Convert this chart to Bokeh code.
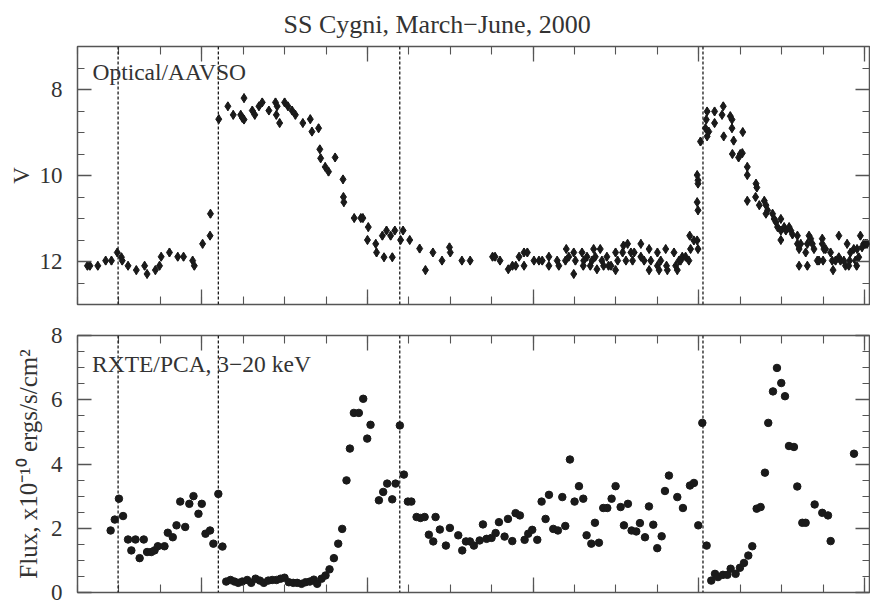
from bokeh.plotting import figure
from bokeh.models import (Range1d, LinearAxis, SingleIntervalTicker, Span, Label, Title,
                          CustomJSTickFormatter)
from bokeh.layouts import column
from bokeh.embed import file_html
from bokeh.resources import INLINE

# ---------------- data ----------------
# Optical (AAVSO) V magnitudes: day, V
opt_day = [6.2, 6.5, 7.45, 8.4, 9.1, 9.8, 10.3, 10.4, 11.1, 12.1, 13.1, 13.4, 14.4, 14.9, 15.1, 16.1,
           17.1, 17.8, 18.9, 19.1, 20.1, 21.0, 21.05, 22.05, 23.15, 23.8, 24.7, 24.9, 25.1, 25.1,
           26.1, 26.4, 26.9, 27.3, 28.1, 28.9, 29.0, 29.1, 29.4, 30.0, 30.4, 30.9, 31.3, 32.2, 33.1,
           33.3, 34.1, 34.25, 34.35, 34.9, 35.3, 36.1, 37.05, 37.1, 37.15, 38.4, 39.2, 39.45, 40.0,
           40.1, 41.0, 41.1, 41.8, 42.0, 42.3, 42.8, 43.0, 43.3, 44.0, 44.3, 45.1, 46.3, 47.0, 47.9,
           49.0, 49.9, 50.0, 51.4, 52.4, 55.1, 55.4, 56.0, 57.0, 57.5, 57.9, 58.3, 58.9, 58.9, 59.3,
           60.1, 60.7, 61.1, 61.9, 61.9, 62.9, 63.1, 63.9, 64.0, 64.3, 64.9, 64.9, 65.1, 65.9, 66.05,
           66.1, 66.5, 66.9, 67.1, 67.3, 67.5, 67.7, 68.1, 68.3, 68.5, 68.9, 69.1, 69.4, 69.95, 69.95,
           70.2, 70.8, 70.9, 71.2, 71.4, 71.8, 72.0, 72.2, 73.0, 73.0, 73.4, 74.0, 74.0, 74.2, 75.0,
           75.0, 75.2, 75.4, 76.0, 76.1, 76.2, 77.0, 77.2, 77.4, 77.6, 77.8, 78.0, 78.4, 78.8, 79.0,
           78.9, 79.4, 79.8, 79.9, 79.8, 79.9, 79.9, 79.8, 79.9, 80.2, 80.8, 81.0, 80.9, 81.0, 81.2,
           81.9, 81.9, 82.95, 82.8, 83.0, 83.8, 84.0, 84.0, 84.05, 84.2, 84.8, 85.0, 85.25, 85.3,
           85.85, 85.85, 85.85, 86.9, 87.0, 86.85, 87.3, 87.9, 88.1, 88.1, 88.3, 88.9, 89.1, 89.3,
           89.5, 89.9, 89.9, 89.9, 90.3, 90.5, 90.9, 91.1, 91.3, 91.9, 91.9, 92.1, 92.3, 92.1, 92.9,
           93.1, 93.1, 93.3, 93.5, 93.7, 93.9, 94.3, 94.5, 94.9, 94.9, 95.1, 95.3, 95.0, 95.9, 96.1,
           96.2, 96.5, 96.9, 96.9, 97.1, 97.5, 97.7, 97.9, 98.1, 98.2, 98.3, 98.7, 98.9, 99.05, 99.1,
           99.3, 99.5, 99.7, 99.9, 100.1, 100.3]
opt_mag = [12.10, 12.10, 12.10, 11.98, 11.98, 11.79, 11.90, 11.98, 12.10, 12.20, 12.10, 12.29, 12.20,
           12.10, 11.89, 11.79, 11.89, 11.89, 11.98, 12.10, 11.59, 11.40, 10.89, 8.69, 8.39, 8.59,
           8.59, 8.66, 8.70, 8.20, 8.49, 8.59, 8.39, 8.30, 8.49, 8.30, 8.59, 8.39, 8.78, 8.30, 8.39,
           8.49, 8.59, 8.78, 8.69, 8.98, 8.90, 9.39, 9.60, 9.80, 9.91, 9.58, 10.09, 10.50, 10.62,
           10.99, 10.99, 10.99, 11.50, 11.20, 11.59, 11.79, 11.40, 11.90, 11.28, 11.40, 11.90, 11.28,
           11.50, 11.28, 11.50, 11.70, 12.20, 11.79,
           11.98, 11.67, 11.79, 11.98, 11.98, 11.89, 11.89, 11.98, 12.18, 12.10, 12.10, 11.89, 11.79,
           12.10, 11.79, 11.98, 11.98, 11.98, 11.89, 12.10, 11.98, 12.10, 11.98, 11.71, 11.89, 11.79,
           12.29, 11.98, 11.79, 12.10, 11.98, 11.89, 12.10, 11.98, 11.71, 11.89, 12.18, 11.71, 11.98,
           12.10, 11.89, 12.10, 12.10, 11.79, 12.20, 11.98, 11.79, 11.63, 11.98, 11.59, 11.79, 11.98,
           11.79, 11.59, 11.89, 11.98, 11.71, 12.20, 11.98, 11.79, 12.10, 12.20, 11.98, 11.71, 12.10,
           12.20, 11.79, 12.10, 12.20, 11.98, 11.98, 11.89, 11.89, 11.98, 11.71, 11.40, 11.51, 11.51,
           11.71, 9.99, 10.11, 10.19, 10.62, 10.81, 9.21, 8.90, 9.09, 8.70, 8.51, 8.98, 8.51, 8.78,
           8.39, 8.59, 9.09, 8.62, 8.70, 8.90, 9.50, 9.19, 9.58, 9.50, 9.48, 8.99, 9.80, 9.99, 10.59,
           10.19, 10.28, 10.50, 10.69, 10.59, 10.69, 10.89, 10.81, 10.89, 11.01, 11.08, 11.20, 11.01,
           11.28, 11.50, 11.20, 11.28, 11.20, 11.28, 11.37, 11.40, 11.59, 11.71, 11.59, 12.10, 11.79,
           11.59, 12.10, 11.40, 11.47, 11.59, 11.71, 11.98, 11.98, 11.47, 11.59, 11.71, 11.71, 11.98,
           11.79, 11.98, 12.20, 11.98, 11.40, 11.90, 11.98, 11.98, 12.10, 11.59, 12.10, 11.98, 11.79,
           11.71, 11.98, 12.10, 11.71, 11.90, 11.40, 11.67, 11.59, 11.59, 11.59]
V_ERR = 0.1

# RXTE/PCA 3-20 keV flux (1e-10 erg/s/cm2): day, flux
xr_day = [9.0, 9.5, 10.0, 10.5, 11.1, 11.5, 12.0, 12.5, 13.0, 13.4, 13.9, 14.3, 14.7, 15.5, 15.9,
          16.5, 16.95, 17.4, 18.0, 18.5, 19.0, 19.6, 20.0, 20.45, 21.0, 21.4, 22.0, 22.5,
          22.95, 23.47, 23.95, 24.40, 24.88, 25.48, 25.97, 26.49, 27.01, 27.49, 28.02, 28.50, 29.02,
          29.51, 29.99, 30.51, 31.04, 31.52, 32.04, 32.53, 33.05, 33.53, 33.93, 34.46, 34.94, 35.42,
          35.95, 36.47, 36.95, 37.47, 37.88, 38.36, 38.96, 39.49, 39.97, 40.37, 41.38, 41.90, 42.38,
          42.99, 43.39, 43.91, 44.40, 44.88, 45.30, 45.93, 46.40, 46.90, 47.41, 47.94, 48.22, 48.74,
          49.47, 49.95, 50.96, 51.44, 51.89, 52.37, 52.85, 53.54, 53.94, 54.38, 54.98, 55.47, 55.87,
          56.55, 56.96, 57.48, 57.88, 58.40, 58.97, 59.41, 59.89, 60.50, 61.02, 61.50, 61.91, 62.43,
          62.99, 63.52, 63.88, 64.44, 65.00, 65.53, 66.05, 66.45, 67.02, 67.46, 67.94, 68.46, 68.95,
          69.47, 69.95, 70.56, 70.96, 71.44, 71.88, 72.45, 72.89, 73.50, 73.98, 74.50, 74.98, 75.51,
          75.91, 76.39, 77.40, 78.08, 78.93, 79.41, 79.93, 80.42, 80.94, 81.50, 81.95, 82.31, 82.91,
          83.44, 83.84, 84.44, 84.96, 85.45, 85.97, 86.45, 86.98, 87.46, 87.98, 88.38, 88.95, 89.43,
          89.95, 90.40, 90.88, 91.48, 91.88, 92.49, 92.89, 93.98, 94.90, 95.59, 95.91, 98.73]
xr_flux = [1.93, 2.27, 2.92, 2.38, 1.65, 1.31, 1.65, 1.07, 1.65, 1.26, 1.26, 1.31, 1.44, 1.44, 1.86,
           1.72, 2.09, 2.83, 2.04, 2.76, 3.00, 2.45, 2.76, 1.83, 1.93, 1.52, 3.07, 1.43,
           0.34, 0.39, 0.34, 0.30, 0.34, 0.39, 0.30, 0.43, 0.37, 0.30, 0.37, 0.39, 0.39, 0.43, 0.46,
           0.32, 0.30, 0.30, 0.27, 0.32, 0.34, 0.40, 0.27, 0.43, 0.53, 0.72, 1.07, 1.52, 1.98, 3.49,
           4.48, 5.59, 5.59, 6.03, 4.79, 5.22, 2.87, 3.13, 3.39, 2.90, 3.39, 5.20, 3.67, 2.83, 2.83,
           2.35, 2.32, 2.35, 1.80, 1.59, 2.35, 1.96,
           1.46, 2.01, 1.78, 1.31, 1.59, 1.59, 1.46, 1.62, 2.12, 1.67, 1.70, 1.85, 2.19, 1.74, 2.29,
           1.60, 2.47, 2.40, 1.64, 1.83, 1.95, 1.64, 2.83, 2.29, 3.04, 1.98, 1.93, 2.97, 2.07, 4.14,
           2.83, 3.31, 2.92, 1.78, 1.52, 2.17, 1.55, 2.63, 2.63, 2.92, 3.31, 2.66, 2.09, 2.76, 1.93,
           1.90, 2.16, 1.72, 2.68, 2.11, 1.38, 1.75, 3.16, 3.64, 2.97, 2.63, 3.33, 3.41, 2.09, 5.28,
           1.46, 0.37, 0.58, 0.48, 0.55, 0.55, 0.74, 0.58, 0.77, 0.92, 1.15, 1.44, 2.61, 2.66, 3.73,
           5.28, 6.26, 6.99, 6.52, 6.11, 4.56, 4.53, 3.30, 2.17, 2.17, 2.74, 2.48, 2.40, 1.60, 4.32]

# X-ray state transition markers (day)
marker_days = [9.9, 22.0, 43.9, 80.5]

TITLE = "SS Cygni, March\u2212June, 2000"
V_LABEL = "V"
FLUX_LABEL = "Flux, x10\u207b\u00b9\u2070 ergs/s/cm\u00b2"
OPT_TEXT = "Optical/AAVSO"
XR_TEXT = "RXTE/PCA, 3\u221220 keV"

X_RANGE = (5, 100.6)
V_RANGE = (13, 7)
F_RANGE = (0, 8)

FONT = "Liberation Serif"
INK = "#1a1a1a"
FRAME = "#555555"
TXT = "#333333"

BLANK = CustomJSTickFormatter(code="return '';")


def style_axis(ax, show_labels, major_len, minor_len):
    ax.axis_line_color = None
    ax.major_tick_in = major_len
    ax.major_tick_out = 0
    ax.minor_tick_in = minor_len
    ax.minor_tick_out = 0
    ax.major_tick_line_color = FRAME
    ax.minor_tick_line_color = FRAME
    ax.major_tick_line_width = 1.3
    ax.minor_tick_line_width = 1.1
    if show_labels:
        ax.major_label_text_font = FONT
        ax.major_label_text_font_size = "23px"
        ax.major_label_text_color = TXT
        ax.major_label_standoff = 15
    else:
        ax.formatter = BLANK
        ax.major_label_text_font_size = "2px"
        ax.major_label_standoff = 0


def make_fig(height, border_top, border_bottom, yrange, yinterval, ylab, lab_standoff, lab_size):
    p = figure(width=870, height=height, output_backend="svg", toolbar_location=None,
               x_range=Range1d(*X_RANGE), y_range=Range1d(*yrange),
               min_border_left=77, min_border_right=1,
               min_border_top=border_top, min_border_bottom=border_bottom,
               background_fill_color="white", border_fill_color="white")
    p.xgrid.visible = False
    p.ygrid.visible = False
    p.outline_line_color = FRAME
    p.outline_line_width = 1.5

    p.xaxis.ticker = SingleIntervalTicker(interval=20, num_minor_ticks=4)
    p.yaxis.ticker = SingleIntervalTicker(interval=yinterval, num_minor_ticks=4)
    style_axis(p.xaxis[0], False, 15, 8)
    style_axis(p.yaxis[0], True, 14, 7)
    p.yaxis.axis_label = ylab
    p.yaxis.axis_label_text_font = FONT
    p.yaxis.axis_label_text_font_size = lab_size
    p.yaxis.axis_label_text_font_style = "normal"
    p.yaxis.axis_label_text_color = TXT
    p.yaxis.axis_label_standoff = lab_standoff

    top = LinearAxis(ticker=SingleIntervalTicker(interval=20, num_minor_ticks=4))
    style_axis(top, False, 15, 8)
    p.add_layout(top, "above")
    right = LinearAxis(ticker=SingleIntervalTicker(interval=yinterval, num_minor_ticks=4))
    style_axis(right, False, 14, 7)
    p.add_layout(right, "right")

    for d in marker_days:
        p.add_layout(Span(location=d, dimension="height", line_color=INK,
                          line_width=1.3, line_dash="3 2"))
    return p


# ---------- top panel: optical ----------
p1 = make_fig(320, 46, 16, V_RANGE, 2, V_LABEL, 3, "23px")
p1.title = Title(text=TITLE, text_font=FONT, text_font_size="26px", text_font_style="normal",
                 text_color=TXT, align="left", offset=206, standoff=15)
lo = [m - V_ERR for m in opt_mag]
hi = [m + V_ERR for m in opt_mag]
p1.segment(x0=opt_day, y0=lo, x1=opt_day, y1=hi, line_color=INK, line_width=1.6)
p1.scatter(x=opt_day, y=opt_mag, marker="diamond", size=9, fill_color=INK, line_color=INK)
p1.add_layout(Label(x=6.8, y=7.3, text=OPT_TEXT, text_font=FONT, text_font_size="23.5px",
                    text_color=TXT, text_baseline="top"))

# ---------- bottom panel: X-ray ----------
p2 = make_fig(288, 15, 16, F_RANGE, 2, FLUX_LABEL, 6, "25px")
p2.scatter(x=xr_day, y=xr_flux, marker="circle", size=7.5, fill_color=INK, line_color=INK)
p2.add_layout(Label(x=6.75, y=7.52, text=XR_TEXT, text_font=FONT, text_font_size="23.5px",
                    text_color=TXT, text_baseline="top"))

layout = column(p1, p2, spacing=0)
open("out.html", "w").write(file_html(layout, INLINE))
